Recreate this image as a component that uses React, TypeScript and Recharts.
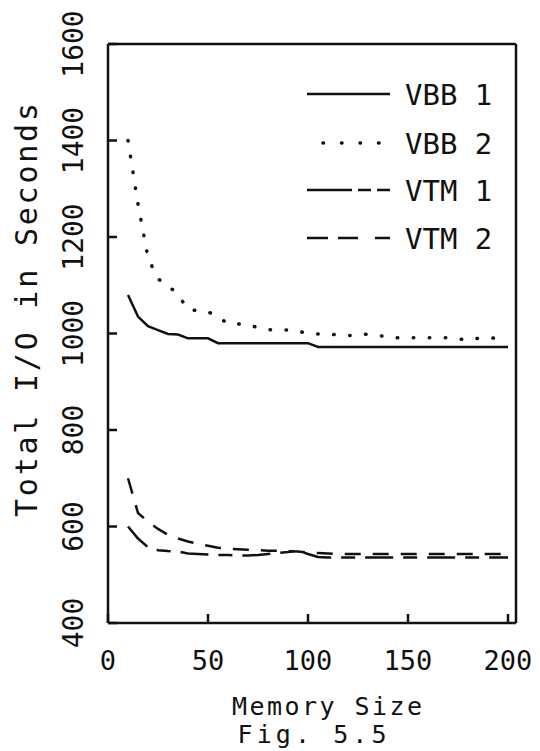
import React from 'react';
import { LineChart, Line, XAxis, YAxis, Legend } from 'recharts';

const memorySizes = [
  10, 15, 20, 25, 30, 35, 40, 45, 50, 55, 60, 65, 70, 75, 80, 85, 90, 95, 100, 105,
  110, 115, 120, 125, 130, 135, 140, 145, 150, 155, 160, 165, 170, 175, 180, 185, 190, 195, 200,
];

const vbb1 = [
  1080, 1035, 1015, 1007, 999, 998, 990, 990, 990, 980, 980, 980, 980, 980, 980, 980, 980, 980, 980, 972,
  972, 972, 972, 972, 972, 972, 972, 972, 972, 972, 972, 972, 972, 972, 972, 972, 972, 972, 972,
];

const vbb2 = [
  1400, 1268, 1157, 1113, 1100, 1080, 1050, 1047, 1045, 1035, 1020, 1020, 1018, 1012, 1008, 1007, 1007, 1005, 1000, 999,
  999, 997, 996, 996, 999, 996, 993, 991, 991, 991, 991, 991, 991, 989, 986, 990, 991, 990, 989,
];

const vtm1 = [
  600, 575, 557, 551, 549, 548, 544, 543, 542, 541, 541, 540, 540, 541, 543, 545, 547, 550, 543, 537,
  536, 536, 536, 536, 536, 536, 536, 536, 536, 536, 536, 536, 536, 536, 536, 536, 536, 536, 536,
];

const vtm2 = [
  700, 628, 610, 595, 583, 575, 569, 564, 560, 556, 554, 553, 552, 551, 550, 550, 549, 548, 546, 545,
  544, 543, 543, 543, 543, 543, 543, 543, 543, 543, 543, 543, 543, 543, 543, 543, 543, 543, 543,
];

const xTicks = [0, 50, 100, 150, 200];
const yTicks = [400, 600, 800, 1000, 1200, 1400, 1600];
const seriesNames = ['VBB 1', 'VBB 2', 'VTM 1', 'VTM 2'];

const data = memorySizes.map((x, i) => ({
  x,
  vbb1: vbb1[i],
  vbb2: vbb2[i],
  vtm1: vtm1[i],
  vtm2: vtm2[i],
}));

const INK = '#111';
const FONT = '"DejaVu Sans Mono", monospace';
const TICK = 9;

const XTick = (props: any) => {
  const { x, y, payload } = props;
  return (
    <text x={x} y={y + 47} textAnchor="middle" fontFamily={FONT} fontSize={27} fill={INK}>
      {payload.value}
    </text>
  );
};

const YTick = (props: any) => {
  const { x, y, payload } = props;
  const bx = x - 25;
  return (
    <text
      x={bx}
      y={y}
      transform={`rotate(-90, ${bx}, ${y})`}
      textAnchor="middle"
      fontFamily={FONT}
      fontSize={28}
      fill={INK}
    >
      {payload.value}
    </text>
  );
};

const legendStyles = [
  { dash: undefined, cap: 'butt', x1: 7, x2: 90, w: 2.5 },
  { dash: '0.5 18', cap: 'round', x1: 23, x2: 80, w: 3.5 },
  { dash: '45 6 13 6 14 100', cap: 'butt', x1: 7, x2: 90, w: 2.5 },
  { dash: '21 10 20 17 15 100', cap: 'butt', x1: 7, x2: 90, w: 2.5 },
];
const legendRows = [26, 75, 122, 170];

const LegendBox = () => (
  <svg width={220} height={200}>
    {seriesNames.map((name, i) => (
      <g key={name}>
        <line
          x1={legendStyles[i].x1}
          x2={legendStyles[i].x2}
          y1={legendRows[i]}
          y2={legendRows[i]}
          stroke={INK}
          strokeWidth={legendStyles[i].w}
          strokeDasharray={legendStyles[i].dash}
          strokeLinecap={legendStyles[i].cap as any}
        />
        <text x={105} y={legendRows[i] + 10.5} fontFamily={FONT} fontSize={29} fill={INK}>
          {name}
        </text>
      </g>
    ))}
  </svg>
);

const axisLineStyle = { stroke: INK, strokeWidth: 2.5 };
const tickLineStyle = { stroke: INK, strokeWidth: 2.5 };

export default function App() {
  return (
    <div style={{ position: 'relative', width: 532, height: 743, background: '#fff' }}>
      <LineChart
        width={532}
        height={743}
        data={data}
        margin={{ top: 35, right: 23, bottom: 127, left: 99 }}
      >
        <XAxis
          dataKey="x"
          type="number"
          domain={[0, 204]}
          ticks={xTicks}
          interval={0}
          height={1}
          tickSize={-TICK}
          tickMargin={TICK}
          tickLine={tickLineStyle}
          axisLine={axisLineStyle}
          tick={<XTick />}
          allowDataOverflow
        />
        <XAxis
          xAxisId="top"
          orientation="top"
          dataKey="x"
          type="number"
          domain={[0, 204]}
          height={1}
          tickSize={0}
          tick={false}
          tickLine={false}
          axisLine={axisLineStyle}
        />
        <YAxis
          type="number"
          domain={[400, 1600]}
          ticks={yTicks}
          interval={0}
          width={1}
          tickSize={-TICK}
          tickMargin={TICK}
          tickLine={tickLineStyle}
          axisLine={axisLineStyle}
          tick={<YTick />}
          allowDataOverflow
        />
        <YAxis
          yAxisId="right"
          orientation="right"
          type="number"
          domain={[400, 1600]}
          width={1}
          tickSize={0}
          tick={false}
          tickLine={false}
          axisLine={axisLineStyle}
        />
        <Legend
          layout="vertical"
          align="center"
          verticalAlign="middle"
          content={() => <LegendBox />}
          wrapperStyle={{ position: 'absolute', left: 292, top: 60, width: 220, height: 200 }}
        />
        <Line
          type="linear"
          dataKey="vbb1"
          name={seriesNames[0]}
          stroke={INK}
          strokeWidth={2.5}
          dot={false}
          activeDot={false}
          isAnimationActive={false}
        />
        <Line
          type="linear"
          dataKey="vbb2"
          name={seriesNames[1]}
          stroke={INK}
          strokeWidth={3.5}
          strokeDasharray="0.5 15.5"
          strokeLinecap="round"
          dot={false}
          activeDot={false}
          isAnimationActive={false}
        />
        <Line
          type="linear"
          dataKey="vtm1"
          name={seriesNames[2]}
          stroke={INK}
          strokeWidth={2.5}
          strokeDasharray="28 10 14 10"
          dot={false}
          activeDot={false}
          isAnimationActive={false}
        />
        <Line
          type="linear"
          dataKey="vtm2"
          name={seriesNames[3]}
          stroke={INK}
          strokeWidth={2.5}
          strokeDasharray="16 12"
          dot={false}
          activeDot={false}
          isAnimationActive={false}
        />
      </LineChart>
      <svg
        width={532}
        height={743}
        style={{ position: 'absolute', left: 0, top: 0, pointerEvents: 'none' }}
      >
        <text
          x={29}
          y={302}
          transform="rotate(-90, 29, 302)"
          textAnchor="middle"
          fontFamily={FONT}
          fontSize={30}
          textLength={414}
          fill={INK}
        >
          Total I/O in Seconds
        </text>
        <text x={319} y={707} textAnchor="middle" fontFamily={FONT} fontSize={25} textLength={190} fill={INK}>
          Memory Size
        </text>
        <text x={304} y={735} textAnchor="middle" fontFamily={FONT} fontSize={25} textLength={149} fill={INK}>
          Fig. 5.5
        </text>
      </svg>
    </div>
  );
}
